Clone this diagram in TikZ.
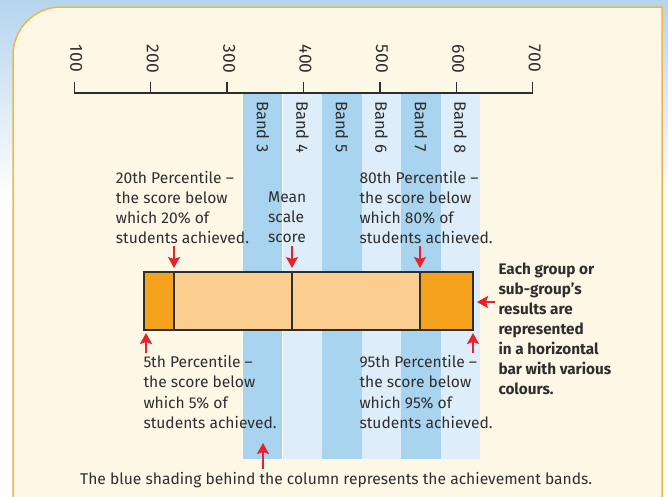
\documentclass[tikz,border=0pt]{standalone}
\usepackage{fontspec}
\setmainfont{Fira Sans}
\usetikzlibrary{arrows.meta}

\definecolor{skyblue}{HTML}{B5D5EE}
\definecolor{panelcream}{HTML}{FDF7E6}
\definecolor{paneledge}{HTML}{F2B44C}
\definecolor{banddark}{HTML}{A9D4EF}
\definecolor{bandlight}{HTML}{DDEEFA}
\definecolor{bardark}{HTML}{F5A31C}
\definecolor{barlight}{HTML}{FBCD8E}
\definecolor{arrowred}{HTML}{E8222C}
\definecolor{ink}{HTML}{2E2E2E}

\begin{document}
\begin{tikzpicture}[
            x = 1pt, y = -1pt,
            every node/.style = {text = ink, inner sep = 0pt},
            note/.style = {align = left, anchor = north west, font = \fontsize{15.6}{20.2}\selectfont},
            boldnote/.style = {note, font = \fontsize{15.3}{20}\selectfont\bfseries},
            scalelabel/.style = {rotate = -90, anchor = west, font = \fontsize{16.5}{16.5}\selectfont},
            pointer/.style = {draw = arrowred, line width = 1.9pt, -{Stealth[length = 11pt, width = 12pt, inset = 2pt]}},
            segment/.style = {draw = ink, line width = 1.3pt}
        ]
        \useasboundingbox (0,0) rectangle (668,496);
        \shade[top color = skyblue, bottom color = white] (0,0) rectangle (668,200);
        \fill[white] (0,200) rectangle (668,496);
        \filldraw[draw = paneledge, fill = panelcream, line width = 1.5pt]
            (13,497) -- (13,55) arc[start angle = 180, end angle = 270, radius = 48] -- (662,7) -- (662,497);

        \foreach \b/\tone [count = \k from 0] in {3/banddark, 4/bandlight, 5/banddark, 6/bandlight, 7/banddark, 8/bandlight} {
            \fill[\tone] (243.3+39.5*\k, 93) rectangle ++(39.5, 366);
            \node[scalelabel] (band\b) at (263+39.5*\k, 101) {Band \b};
        }
        \draw[white, line width = 0.8pt] (282.8,93) -- (282.8,459);

        \draw[ink, line width = 1.3pt] (74.3,93) -- (532.7,93);
        \foreach \v [count = \k from 0] in {100,200,...,700} {
            \draw[ink, line width = 1.3pt] (74.3+76.4*\k, 82) -- (74.3+76.4*\k, 93);
            \node[scalelabel, font = \fontsize{17.5}{17.5}\selectfont] (v\v) at (76.3+76.4*\k, 44.5) {\v};
        }

        \filldraw[segment, fill = barlight] (144,272) rectangle (473,330);
        \filldraw[segment, fill = bardark] (144,272) rectangle (174,330);
        \filldraw[segment, fill = bardark] (420,272) rectangle (473,330);
        \draw[ink, line width = 2.6pt] (292,272) -- (292,330);

        \node[note] (p20) at (115.7,170.8) {20th Percentile --\\the score below\\which 20\% of\\students achieved.};
        \node[note] (mean) at (268,191.3) {Mean\\scale\\score};
        \node[note] (p80) at (359.3,170.8) {80th Percentile --\\the score below\\which 80\% of\\students achieved.};
        \node[boldnote] (group) at (498.3,263) {Each group or\\sub-group’s\\results are\\represented\\in a horizontal\\bar with various\\colours.};
        \node[note] (p5) at (143.3,355.3) {5th Percentile --\\the score below\\which 5\% of\\students achieved.};
        \node[note] (p95) at (359.3,355.3) {95th Percentile --\\the score below\\which 95\% of\\students achieved.};
        \node[note] (shading) at (80,472.6) {The blue shading behind the column represents the achievement bands.};

        \coordinate (t20) at (174,246);   \coordinate (h20) at (174,268);
        \coordinate (tmean) at (292,246); \coordinate (hmean) at (292,268);
        \coordinate (t80) at (420,246);   \coordinate (h80) at (420,268);
        \coordinate (tgroup) at (495,302); \coordinate (hgroup) at (477,302);
        \coordinate (t5) at (146,353);    \coordinate (h5) at (146,333);
        \coordinate (t95) at (473,353);   \coordinate (h95) at (473,333);
        \coordinate (tband) at (263,469); \coordinate (hband) at (263,443);
        \draw[pointer] (t20) -- (h20);
        \draw[pointer] (tmean) -- (hmean);
        \draw[pointer] (t80) -- (h80);
        \draw[pointer] (tgroup) -- (hgroup);
        \draw[pointer] (t5) -- (h5);
        \draw[pointer] (t95) -- (h95);
        \draw[pointer] (tband) -- (hband);
    \end{tikzpicture}
\end{document}
